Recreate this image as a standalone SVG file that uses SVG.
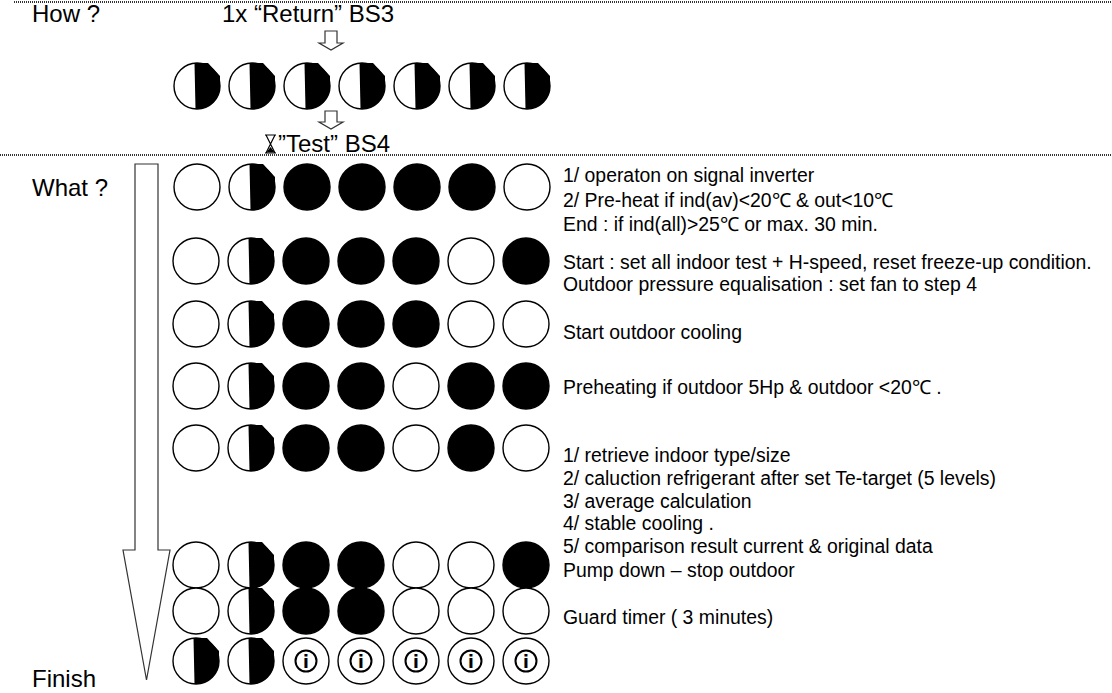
<svg xmlns="http://www.w3.org/2000/svg" xmlns:xlink="http://www.w3.org/1999/xlink" width="1112" height="693" viewBox="0 0 1112 693">
<style>
  .lbl { font-family: "Liberation Sans", Arial, sans-serif; font-size: 24px; fill: #000; }
  .txt { font-family: "Liberation Sans", Arial, sans-serif; font-size: 19.4px; fill: #000; }
  .sep { stroke: #333; stroke-width: 2; stroke-dasharray: 1 1; fill: none; }
  .o { fill: #fff; stroke: #000; stroke-width: 1.4; }
  .b { fill: #000; stroke: #000; stroke-width: 1.4; }
  .arr { fill: #fff; stroke: #333; stroke-width: 1.2; }
</style>
<defs>
  <g id="O"><circle r="23" class="o"/></g>
  <g id="B"><circle r="23" class="b"/></g>
  <g id="H">
    <circle r="23" class="o"/>
    <path d="M -2.5,-23 L 11,-23 L 23,-10 L 23,3 A 23 23 0 0 1 -1.5,23 Z" fill="#000"/>
  </g>
  <g id="I">
    <circle r="23" class="o"/>
    <circle r="10.5" fill="none" stroke="#000" stroke-width="2"/>
    <text y="6.5" text-anchor="middle" font-family="DejaVu Sans, sans-serif" font-weight="bold" font-size="17">i</text>
  </g>
</defs>
<rect width="1112" height="693" fill="#fff"/>

<g id="separators">
  <line class="sep" x1="14" y1="2" x2="1112" y2="2"/>
  <line class="sep" x1="0" y1="155" x2="1112" y2="155"/>
</g>

<g id="labels">
  <text class="lbl" x="32" y="22">How ?</text>
  <text class="lbl" x="222" y="22">1x “Return” BS3</text>
  <text class="lbl" x="278" y="152">”Test” BS4</text>
  <text class="lbl" x="32" y="196">What ?</text>
  <text class="lbl" x="32" y="687">Finish</text>
</g>

<g id="hourglass" fill="none" stroke="#000" stroke-width="1.2">
  <path d="M 265,135 H 276 M 265,153 H 276 M 266,135 L 270.5,144 L 266,153 M 275,135 L 270.5,144 L 275,153"/>
  <path d="M 267.5,152 L 270.5,148 L 273.5,152 Z" fill="#000"/>
</g>

<g id="connectors">
  <path class="arr" d="M 325,31 H 337 V 43 H 343 L 331,50 L 319,43 H 325 Z"/>
  <path class="arr" d="M 325,111 H 337 V 122 H 343 L 331,129 L 319,122 H 325 Z"/>
  <path class="arr" d="M 135,164 H 158 V 550 H 170 L 146.5,680 L 123,550 H 135 Z"/>
</g>

<g id="row-how">
  <use xlink:href="#H" x="197" y="86"/><use xlink:href="#H" x="252" y="86"/><use xlink:href="#H" x="307" y="86"/><use xlink:href="#H" x="362" y="86"/><use xlink:href="#H" x="417" y="86"/><use xlink:href="#H" x="472" y="86"/><use xlink:href="#H" x="527" y="86"/>
</g>

<g id="row1">
  <use xlink:href="#O" x="197" y="187"/><use xlink:href="#H" x="252" y="187"/><use xlink:href="#B" x="307" y="187"/><use xlink:href="#B" x="362" y="187"/><use xlink:href="#B" x="417" y="187"/><use xlink:href="#B" x="472" y="187"/><use xlink:href="#O" x="527" y="187"/>
  <text class="txt" x="563" y="182">1/ operaton on signal inverter</text>
  <text class="txt" x="563" y="207">2/ Pre-heat if ind(av)&lt;20℃ &amp; out&lt;10℃</text>
  <text class="txt" x="563" y="231">End : if ind(all)&gt;25℃ or max. 30 min.</text>
</g>
<g id="row2">
  <use xlink:href="#O" x="196" y="261"/><use xlink:href="#H" x="251" y="261"/><use xlink:href="#B" x="306" y="261"/><use xlink:href="#B" x="361" y="261"/><use xlink:href="#B" x="416" y="261"/><use xlink:href="#O" x="471" y="261"/><use xlink:href="#B" x="526" y="261"/>
  <text class="txt" x="563" y="269">Start : set all indoor test + H-speed, reset freeze-up condition.</text>
  <text class="txt" x="563" y="291">Outdoor pressure equalisation : set fan to step 4</text>
</g>
<g id="row3">
  <use xlink:href="#O" x="196" y="324"/><use xlink:href="#H" x="251" y="324"/><use xlink:href="#B" x="306" y="324"/><use xlink:href="#B" x="361" y="324"/><use xlink:href="#B" x="416" y="324"/><use xlink:href="#O" x="471" y="324"/><use xlink:href="#O" x="526" y="324"/>
  <text class="txt" x="563" y="339">Start outdoor cooling</text>
</g>
<g id="row4">
  <use xlink:href="#O" x="196" y="386"/><use xlink:href="#H" x="251" y="386"/><use xlink:href="#B" x="306" y="386"/><use xlink:href="#B" x="361" y="386"/><use xlink:href="#O" x="416" y="386"/><use xlink:href="#B" x="471" y="386"/><use xlink:href="#B" x="526" y="386"/>
  <text class="txt" x="563" y="394">Preheating if outdoor 5Hp &amp; outdoor &lt;20℃ .</text>
</g>
<g id="row5">
  <use xlink:href="#O" x="196" y="448"/><use xlink:href="#H" x="251" y="448"/><use xlink:href="#B" x="306" y="448"/><use xlink:href="#B" x="361" y="448"/><use xlink:href="#O" x="416" y="448"/><use xlink:href="#B" x="471" y="448"/><use xlink:href="#O" x="526" y="448"/>
  <text class="txt" x="563" y="462">1/ retrieve indoor type/size</text>
  <text class="txt" x="563" y="485">2/ caluction refrigerant after set Te-target (5 levels)</text>
  <text class="txt" x="563" y="508">3/ average calculation</text>
  <text class="txt" x="563" y="530">4/ stable cooling .</text>
  <text class="txt" x="563" y="553">5/ comparison result current &amp; original data</text>
</g>
<g id="row6">
  <use xlink:href="#O" x="196" y="565"/><use xlink:href="#H" x="251" y="565"/><use xlink:href="#B" x="306" y="565"/><use xlink:href="#B" x="361" y="565"/><use xlink:href="#O" x="416" y="565"/><use xlink:href="#O" x="471" y="565"/><use xlink:href="#B" x="526" y="565"/>
  <text class="txt" x="563" y="577">Pump down – stop outdoor</text>
</g>
<g id="row7">
  <use xlink:href="#O" x="196" y="611"/><use xlink:href="#H" x="251" y="611"/><use xlink:href="#B" x="306" y="611"/><use xlink:href="#B" x="361" y="611"/><use xlink:href="#O" x="416" y="611"/><use xlink:href="#O" x="471" y="611"/><use xlink:href="#O" x="526" y="611"/>
  <text class="txt" x="563" y="624">Guard timer ( 3 minutes)</text>
</g>
<g id="row8">
  <use xlink:href="#H" x="196" y="661"/><use xlink:href="#H" x="251" y="661"/><use xlink:href="#I" x="306" y="661"/><use xlink:href="#I" x="361" y="661"/><use xlink:href="#I" x="416" y="661"/><use xlink:href="#I" x="471" y="661"/><use xlink:href="#I" x="526" y="661"/>
</g>
</svg>
